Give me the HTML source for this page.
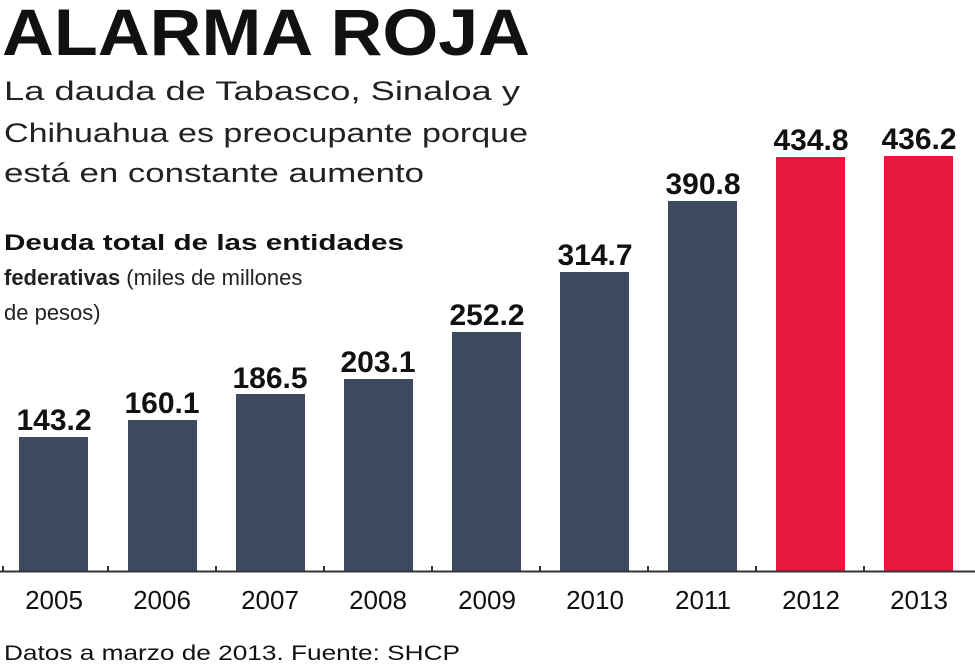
<!DOCTYPE html>
<html><head><meta charset="utf-8"><style>
body{margin:0;width:975px;height:666px;background:#fff;overflow:hidden;font-family:"Liberation Sans",sans-serif;color:#111}
</style></head><body>
<svg width="975" height="666" xmlns="http://www.w3.org/2000/svg" font-family="Liberation Sans, sans-serif">
<text x="2" y="55" font-size="66" font-weight="bold" fill="#111" textLength="528" lengthAdjust="spacingAndGlyphs">ALARMA ROJA</text>
<text x="4" y="100" font-size="27" fill="#222" textLength="516" lengthAdjust="spacingAndGlyphs">La dauda de Tabasco, Sinaloa y</text>
<text x="4" y="142" font-size="27" fill="#222" textLength="524" lengthAdjust="spacingAndGlyphs">Chihuahua es preocupante porque</text>
<text x="4" y="182" font-size="27" fill="#222" textLength="420" lengthAdjust="spacingAndGlyphs">está en constante aumento</text>
<text x="4" y="250" font-size="22" font-weight="bold" fill="#111" textLength="400" lengthAdjust="spacingAndGlyphs">Deuda total de las entidades</text>
<text x="4" y="285" font-size="22" fill="#222"><tspan font-weight="bold">federativas</tspan> (miles de millones</text>
<text x="4" y="320" font-size="22" fill="#222">de pesos)</text>
<g fill="#3d4a5f">
<rect x="19" y="437" width="69" height="134"/>
<rect x="128" y="420" width="69" height="151"/>
<rect x="236" y="394" width="69" height="177"/>
<rect x="344" y="379" width="69" height="192"/>
<rect x="452" y="332" width="69" height="239"/>
<rect x="560" y="272" width="69" height="299"/>
<rect x="668" y="201" width="69" height="370"/>
</g>
<g fill="#e8183c">
<rect x="776" y="157" width="69" height="414"/>
<rect x="884" y="156" width="69" height="415"/>
</g>
<line x1="0" y1="571.5" x2="975" y2="571.5" stroke="#333" stroke-width="2"/>
<g stroke="#333" stroke-width="2">
<line x1="3" y1="566" x2="3" y2="572"/><line x1="108" y1="566" x2="108" y2="572"/><line x1="216" y1="566" x2="216" y2="572"/>
<line x1="324" y1="566" x2="324" y2="572"/><line x1="432" y1="566" x2="432" y2="572"/><line x1="540" y1="566" x2="540" y2="572"/>
<line x1="648" y1="566" x2="648" y2="572"/><line x1="756" y1="566" x2="756" y2="572"/><line x1="864" y1="566" x2="864" y2="572"/>
</g>
<g font-size="30" font-weight="bold" text-anchor="middle" fill="#111">
<text x="54" y="430">143.2</text><text x="162" y="413">160.1</text><text x="270" y="388">186.5</text>
<text x="378" y="372">203.1</text><text x="487" y="325">252.2</text><text x="595" y="265">314.7</text>
<text x="703" y="194">390.8</text><text x="811" y="150">434.8</text><text x="919" y="149">436.2</text>
</g>
<g font-size="26" text-anchor="middle" fill="#111">
<text x="54" y="609">2005</text><text x="162" y="609">2006</text><text x="270" y="609">2007</text>
<text x="378" y="609">2008</text><text x="487" y="609">2009</text><text x="595" y="609">2010</text>
<text x="703" y="609">2011</text><text x="811" y="609">2012</text><text x="919" y="609">2013</text>
</g>
<text x="4" y="660" font-size="21" fill="#111" textLength="456" lengthAdjust="spacingAndGlyphs">Datos a marzo de 2013. Fuente: SHCP</text>
</svg>
</body></html>
